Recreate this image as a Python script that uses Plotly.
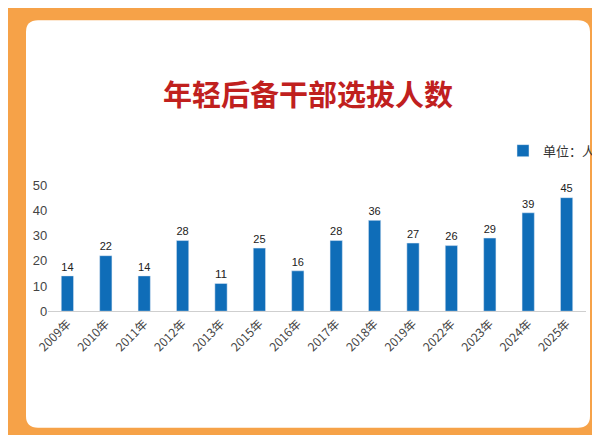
import plotly.graph_objects as go

years = ["2009年", "2010年", "2011年", "2012年", "2013年", "2015年", "2016年",
         "2017年", "2018年", "2019年", "2022年", "2023年", "2024年", "2025年"]
counts = [14, 22, 14, 28, 11, 25, 16, 28, 36, 27, 26, 29, 39, 45]

FONT = "Noto Sans CJK SC"

fig = go.Figure()
fig.add_trace(go.Bar(
    x=years, y=counts, name="单位：人",
    marker=dict(color="#0F6DB8"),
    width=0.32,
    text=counts, textposition="outside",
    textfont=dict(size=15, color="#222222", family="Arial"),
    cliponaxis=False,
))

fig.add_shape(
    type="path", xref="paper", yref="paper", layer="below",
    path="M 0.05,0.972 L 0.95,0.972 Q 0.97,0.972 0.97,0.945 L 0.97,0.062 "
         "Q 0.97,0.035 0.95,0.035 L 0.05,0.035 Q 0.03,0.035 0.03,0.062 "
         "L 0.03,0.945 Q 0.03,0.972 0.05,0.972 Z",
    fillcolor="white", line=dict(width=0),
)

fig.add_annotation(
    text="<b>年轻后备干部选拔人数</b>", xref="paper", yref="paper",
    x=0.5, y=0.857, showarrow=False,
    font=dict(size=29, color="#C0201E", family=FONT),
)

fig.update_layout(
    width=600, height=435,
    margin=dict(l=0, r=0, t=0, b=0, autoexpand=False),
    paper_bgcolor="#F6A248",
    plot_bgcolor="rgba(0,0,0,0)",
    showlegend=True,
    legend=dict(x=0.825, y=0.672, xanchor="left", yanchor="middle",
                bgcolor="rgba(0,0,0,0)", itemwidth=30,
                font=dict(size=13, color="#333333", family=FONT)),
    xaxis=dict(domain=[0.067, 0.963], tickangle=-45, showline=True,
               linecolor="#CFCFCF", ticks="", automargin=False,
               tickfont=dict(size=12, color="#444444", family=FONT)),
    yaxis=dict(domain=[0.303, 0.593], range=[0, 50], dtick=10,
               showgrid=False, zeroline=False, showline=False, automargin=False,
               tickfont=dict(size=13, color="#444444", family="Arial")),
)

fig.write_html("out.html")
